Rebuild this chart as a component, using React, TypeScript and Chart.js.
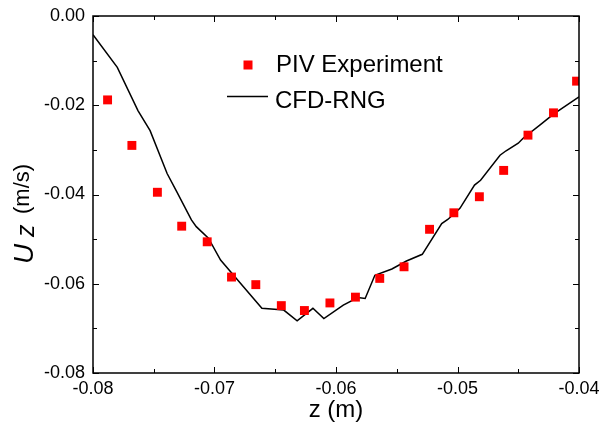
import React, { useEffect, useRef } from "react";
import { Chart, registerables } from "chart.js";

Chart.register(...registerables);

// PIV experiment (z in m, Uz in m/s)
const pivZ = [-0.0788, -0.0768, -0.0747, -0.0727, -0.0706, -0.0686, -0.0666, -0.0645, -0.0626, -0.0605, -0.0584, -0.0564, -0.0544, -0.0523, -0.0503, -0.0482, -0.0462, -0.0442, -0.0421, -0.0402];
const pivUz = [-0.0188, -0.0290, -0.0395, -0.0471, -0.0506, -0.0585, -0.0602, -0.0649, -0.0660, -0.0643, -0.0630, -0.0588, -0.0562, -0.0478, -0.0441, -0.0405, -0.0346, -0.0267, -0.0217, -0.0146];

// CFD-RNG simulation
const cfdZ = [-0.0800, -0.0780, -0.0763, -0.0753, -0.0739, -0.0731, -0.0719, -0.0715, -0.0705, -0.0695, -0.0682, -0.0661, -0.0643, -0.0632, -0.0619, -0.0610, -0.0594, -0.0582, -0.0576, -0.0568, -0.0554, -0.0542, -0.0529, -0.0513, -0.0508, -0.0498, -0.0486, -0.0481, -0.0465, -0.0460, -0.0450, -0.0446, -0.0432, -0.0421, -0.0400];
const cfdUz = [-0.0042, -0.0115, -0.0212, -0.0257, -0.0353, -0.0394, -0.0457, -0.0472, -0.0498, -0.0547, -0.0588, -0.0655, -0.0659, -0.0683, -0.0655, -0.0678, -0.0648, -0.0631, -0.0633, -0.0581, -0.0567, -0.0549, -0.0534, -0.0465, -0.0456, -0.0431, -0.0379, -0.0368, -0.0312, -0.0302, -0.0285, -0.0274, -0.0244, -0.0220, -0.0181];

const seriesLabels = ["PIV Experiment", "CFD-RNG"];
const xTitle = "z (m)";
const yTitleMain = "U";
const yTitleSub = "z";
const yTitleUnit = "(m/s)";

const FONT = "'Liberation Sans', Arial, sans-serif";

const framePlugin = {
  id: "framePlugin",
  afterDraw(chart: any) {
    const { ctx, chartArea } = chart;
    const xs = chart.scales.x;
    const ys = chart.scales.y;
    ctx.save();
    ctx.strokeStyle = "#000";
    ctx.lineWidth = 1.5;
    ctx.strokeRect(chartArea.left, chartArea.top, chartArea.right - chartArea.left, chartArea.bottom - chartArea.top);

    const major = 6;
    const minor = 4;
    ctx.lineWidth = 1;
    ctx.beginPath();
    const xt = xs.ticks.map((t: any) => t.value);
    xt.forEach((v: number, i: number) => {
      const px = Math.round(xs.getPixelForValue(v)) + 0.5;
      ctx.moveTo(px, chartArea.bottom); ctx.lineTo(px, chartArea.bottom - major);
      ctx.moveTo(px, chartArea.top); ctx.lineTo(px, chartArea.top + major);
      if (i < xt.length - 1) {
        const m = Math.round(xs.getPixelForValue((v + xt[i + 1]) / 2)) + 0.5;
        ctx.moveTo(m, chartArea.bottom); ctx.lineTo(m, chartArea.bottom - minor);
        ctx.moveTo(m, chartArea.top); ctx.lineTo(m, chartArea.top + minor);
      }
    });
    const yt = ys.ticks.map((t: any) => t.value);
    yt.forEach((v: number, i: number) => {
      const py = Math.round(ys.getPixelForValue(v)) + 0.5;
      ctx.moveTo(chartArea.left, py); ctx.lineTo(chartArea.left + major, py);
      ctx.moveTo(chartArea.right, py); ctx.lineTo(chartArea.right - major, py);
      if (i < yt.length - 1) {
        const m = Math.round(ys.getPixelForValue((v + yt[i + 1]) / 2)) + 0.5;
        ctx.moveTo(chartArea.left, m); ctx.lineTo(chartArea.left + minor, m);
        ctx.moveTo(chartArea.right, m); ctx.lineTo(chartArea.right - minor, m);
      }
    });
    ctx.stroke();

    // x title
    ctx.fillStyle = "#000";
    ctx.font = `24px ${FONT}`;
    ctx.textAlign = "center";
    ctx.textBaseline = "alphabetic";
    ctx.fillText(xTitle, (chartArea.left + chartArea.right) / 2, 417);

    // y title (rotated)
    ctx.save();
    ctx.translate(33, 0);
    ctx.rotate(-Math.PI / 2);
    ctx.textAlign = "left";
    ctx.font = `italic 28px ${FONT}`;
    ctx.fillText(yTitleMain, -264, 0);
    ctx.font = `italic 25px ${FONT}`;
    ctx.fillText(yTitleSub, -237, 1);
    ctx.font = `22px ${FONT}`;
    ctx.fillText(yTitleUnit, -214, -4);
    ctx.restore();

    // legend
    const ds = chart.data.datasets;
    ctx.font = `24px ${FONT}`;
    ctx.textAlign = "left";
    ctx.fillStyle = ds[0].backgroundColor;
    ctx.fillRect(248 - 4.5, 65 - 4.5, 9, 9);
    ctx.fillStyle = "#000";
    ctx.fillText(ds[0].label, 276, 72);
    ctx.strokeStyle = ds[1].borderColor;
    ctx.lineWidth = 1.5;
    ctx.beginPath();
    ctx.moveTo(227, 96.5);
    ctx.lineTo(268, 96.5);
    ctx.stroke();
    ctx.fillText(ds[1].label, 275, 108);
    ctx.restore();
  },
};

export default function App() {
  const ref = useRef<HTMLCanvasElement | null>(null);
  useEffect(() => {
    if (!ref.current) return;
    const chart = new Chart(ref.current, {
      type: "scatter",
      data: {
        datasets: [
          {
            label: seriesLabels[0],
            data: pivZ.map((x, i) => ({ x, y: pivUz[i] })),
            backgroundColor: "rgb(255,0,0)",
            borderColor: "rgb(255,0,0)",
            borderWidth: 0,
            pointStyle: "rect",
            pointRadius: 6.3,
            showLine: false,
            order: 1,
          },
          {
            label: seriesLabels[1],
            data: cfdZ.map((x, i) => ({ x, y: cfdUz[i] })),
            borderColor: "#000",
            backgroundColor: "#000",
            borderWidth: 1.5,
            pointRadius: 0,
            showLine: true,
            tension: 0,
            order: 2,
          },
        ],
      },
      options: {
        animation: false,
        responsive: false,
        devicePixelRatio: 1,
        layout: { padding: { left: 0, top: 16, right: 22, bottom: 0 } },
        plugins: { legend: { display: false }, tooltip: { enabled: false } },
        scales: {
          x: {
            type: "linear",
            min: -0.08,
            max: -0.04,
            ticks: {
              stepSize: 0.01,
              padding: 5,
              color: "#000",
              font: { family: FONT, size: 18 },
              callback: (v: any) => Number(v).toFixed(2),
            },
            grid: { display: true, drawOnChartArea: false, drawTicks: false },
            border: { display: false },
            afterFit: (s: any) => { s.height = 59; s.paddingLeft = 0; s.paddingRight = 0; },
          },
          y: {
            type: "linear",
            min: -0.08,
            max: 0,
            ticks: {
              stepSize: 0.02,
              padding: 8,
              color: "#000",
              font: { family: FONT, size: 18 },
              callback: (v: any) => { const s = Number(v).toFixed(2); return s === "-0.00" ? "0.00" : s; },
            },
            grid: { display: true, drawOnChartArea: false, drawTicks: false },
            border: { display: false },
            afterFit: (s: any) => { s.width = 93; s.paddingTop = 0; s.paddingBottom = 0; },
          },
        },
      },
      plugins: [framePlugin],
    } as any);
    return () => chart.destroy();
  }, []);
  return (
    <div style={{ position: "fixed", left: 0, top: 0, width: 601, height: 432, background: "#fff" }}>
      <canvas ref={ref} width={601} height={432} />
    </div>
  );
}
